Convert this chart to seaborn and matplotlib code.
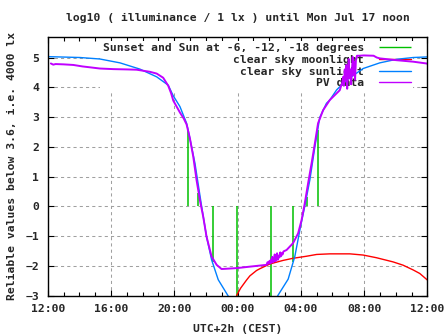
import numpy as np
import pandas as pd
import matplotlib
matplotlib.use("Agg")
import matplotlib.pyplot as plt
import seaborn as sns
from matplotlib.ticker import MultipleLocator

# ---------------- data (hours after Sun 12:00) ----------------
sun_t = [0.0, 2.04, 3.30, 4.57, 5.83, 6.89, 7.62, 7.93, 8.36, 8.78, 8.88, 9.31, 9.73,
         10.04, 10.36, 10.78, 11.39, 12.0, 13.0, 14.0, 14.55, 15.2, 15.62, 15.98, 16.25,
         16.57, 16.89, 17.2, 17.62, 17.83, 18.26, 18.89, 19.94, 20.99, 22.05, 23.1, 24.0]
sun_v = [5.03, 5.0, 4.95, 4.82, 4.61, 4.35, 4.07, 3.72, 3.35, 2.79, 2.56, 1.44, 0.0,
         -1.02, -1.80, -2.47, -3.0, -3.6, -3.8, -3.6, -3.0, -2.45, -1.69, -0.69, 0.0,
         0.88, 2.0, 2.99, 3.46, 3.57, 3.91, 4.24, 4.63, 4.82, 4.94, 5.0, 5.02]

moon_t = [11.94, 12.2, 12.57, 12.78, 13.2, 13.41, 14.04, 14.88, 15.5, 16.36, 17.0, 17.83,
          19.1, 19.94, 20.78, 21.83, 22.46, 23.1, 23.52, 24.0]
moon_v = [-3.0, -2.75, -2.48, -2.34, -2.16, -2.1, -1.94, -1.82, -1.75, -1.68, -1.62, -1.6,
          -1.6, -1.64, -1.73, -1.87, -1.98, -2.14, -2.26, -2.48]

pv_t = [0.2, 0.35, 0.5, 1.0, 1.62, 2.2, 2.68, 3.3, 4.14, 5.0, 5.62, 6.46, 6.89, 7.3,
        7.62, 7.8, 7.94, 8.15, 8.36, 8.6, 8.78, 8.99, 9.2, 9.41, 9.62, 9.83, 10.04, 10.36,
        10.68, 10.99, 11.94, 12.78, 13.83,
        13.9, 13.95, 14.0, 14.05, 14.1, 14.15, 14.2, 14.25, 14.3, 14.35, 14.4, 14.45,
        14.5, 14.55, 14.6, 14.65, 14.7, 14.75, 14.8, 14.85, 14.9,
        15.1, 15.51, 15.83, 16.05, 16.25, 16.46, 16.68, 16.89, 17.09, 17.41, 17.83,
        18.46, 18.55, 18.62, 18.68, 18.72, 18.78, 18.83, 18.88, 18.93, 18.98, 19.03,
        19.08, 19.13, 19.18, 19.23, 19.28, 19.33, 19.38, 19.43, 19.48, 19.55, 19.7,
        20.0, 20.6, 20.8, 21.0, 22.05, 23.1, 23.94, 24.0]
pv_v = [4.80, 4.76, 4.78, 4.77, 4.75, 4.70, 4.67, 4.63, 4.61, 4.60, 4.59, 4.52, 4.46, 4.32,
        4.05, 3.80, 3.55, 3.35, 3.15, 2.95, 2.75, 2.28, 1.67, 0.88, 0.21, -0.35, -1.02, -1.69,
        -1.97, -2.11, -2.08, -2.03, -1.97,
        -1.88, -1.93, -1.85, -1.92, -1.80, -1.90, -1.70, -1.88, -1.84, -1.62, -1.85, -1.78,
        -1.58, -1.80, -1.66, -1.72, -1.55, -1.68, -1.58, -1.62, -1.52,
        -1.47, -1.24, -0.91, -0.46, 0.10, 0.77, 1.44, 2.12, 2.79, 3.23, 3.57,
        3.90, 4.05, 4.15, 4.35, 4.05, 4.60, 4.20, 4.75, 3.95, 4.45, 4.95,
        4.30, 4.60, 4.10, 4.55, 5.02, 4.40, 4.85, 4.25, 4.90, 5.06, 5.06,
        5.07, 5.06, 5.00, 4.97, 4.91, 4.86, 4.80, 4.79]

twi_t = [8.88, 9.51, 10.46, 11.96, 14.12, 15.51, 16.42, 17.09]
twi_v = [2.57, 0.44, -1.87, -3.0, -3.0, -1.87, 0.32, 2.57]

xtick_pos = [0, 4, 8, 12, 16, 20, 24]
xtick_lab = ["12:00", "16:00", "20:00", "00:00", "04:00", "08:00", "12:00"]

labels = ["Sunset and Sun at -6, -12, -18 degrees", "clear sky moonlight",
          "clear sky sunlight", "PV data"]
colors = ["#00c000", "#ff0000", "#0080ff", "#c000ff"]

# ---------------- style ----------------
sns.set_theme(style="white")
plt.rcParams["font.family"] = ["DejaVu Sans Mono"]
plt.rcParams["font.weight"] = "bold"
plt.rcParams["font.size"] = 8.2
plt.rcParams["lines.scale_dashes"] = True

fig = plt.figure(figsize=(4.47, 3.35), dpi=100)
ax = fig.add_axes([0.1067, 0.1179, 0.8494, 0.7708])
ax.set_facecolor("white")

ax.vlines(twi_t, 0, twi_v, color=colors[0], linewidth=1.1, label=labels[0], zorder=2)
sns.lineplot(x=moon_t, y=moon_v, ax=ax, color=colors[1], linewidth=1.0,
             label=labels[1], sort=False, estimator=None, zorder=2.1)
sns.lineplot(x=sun_t, y=sun_v, ax=ax, color=colors[2], linewidth=1.0,
             label=labels[2], sort=False, estimator=None, zorder=2.2)
sns.lineplot(x=pv_t, y=pv_v, ax=ax, color=colors[3], linewidth=1.4,
             label=labels[3], sort=False, estimator=None, zorder=2.3)

ax.set_xlim(0, 24)
ax.set_ylim(-3, 5.68)
ax.set_xticks(xtick_pos)
ax.set_xticklabels(xtick_lab)
ax.xaxis.set_minor_locator(MultipleLocator(1))
ax.set_yticks(range(-3, 6))

ax.set_axisbelow(True)
ax.grid(True, which="major", color="#a0a0a0", linestyle=(0, (3, 3)), linewidth=0.75)

for s in ax.spines.values():
    s.set_color("black")
    s.set_linewidth(1.0)

ax.tick_params(axis="both", which="major", direction="in", length=4.5, width=0.8,
               top=True, right=True, bottom=True, left=True, color="black",
               labelsize=8.2, pad=6)
ax.tick_params(axis="x", which="minor", direction="in", length=3, width=0.8,
               top=True, bottom=True, color="black")
for t in ax.get_xticklabels() + ax.get_yticklabels():
    t.set_fontweight("bold")

ax.set_xlabel("UTC+2h (CEST)", fontsize=8.2, fontweight="bold")
ax.xaxis.set_label_coords(0.5, -0.11)
ax.set_ylabel("Reliable values below 3.6, i.e. 4000 lx", fontsize=8.2, fontweight="bold")
ax.yaxis.set_label_coords(-0.082, 0.5)

fig.text(237.5 / 447, 1 - 18 / 335,
         "log10 ( illuminance / 1 lx ) until Mon Jul 17 noon",
         ha="center", va="center", fontsize=8.2, fontweight="bold")

leg = ax.legend(loc="upper right", bbox_to_anchor=(0.962, 0.985), markerfirst=False,
                frameon=True, facecolor="white", edgecolor="none", framealpha=1,
                fancybox=False, handlelength=2.8, handletextpad=1.3, labelspacing=0.14,
                borderpad=0.2, borderaxespad=0, prop={"family": "DejaVu Sans Mono",
                                                     "weight": "bold", "size": 8.2})
for h, c in zip(leg.legend_handles, colors):
    h.set_color(c)
    h.set_linewidth(1.0)
leg.set_zorder(1.5)

fig.savefig("out.png", dpi=100)
